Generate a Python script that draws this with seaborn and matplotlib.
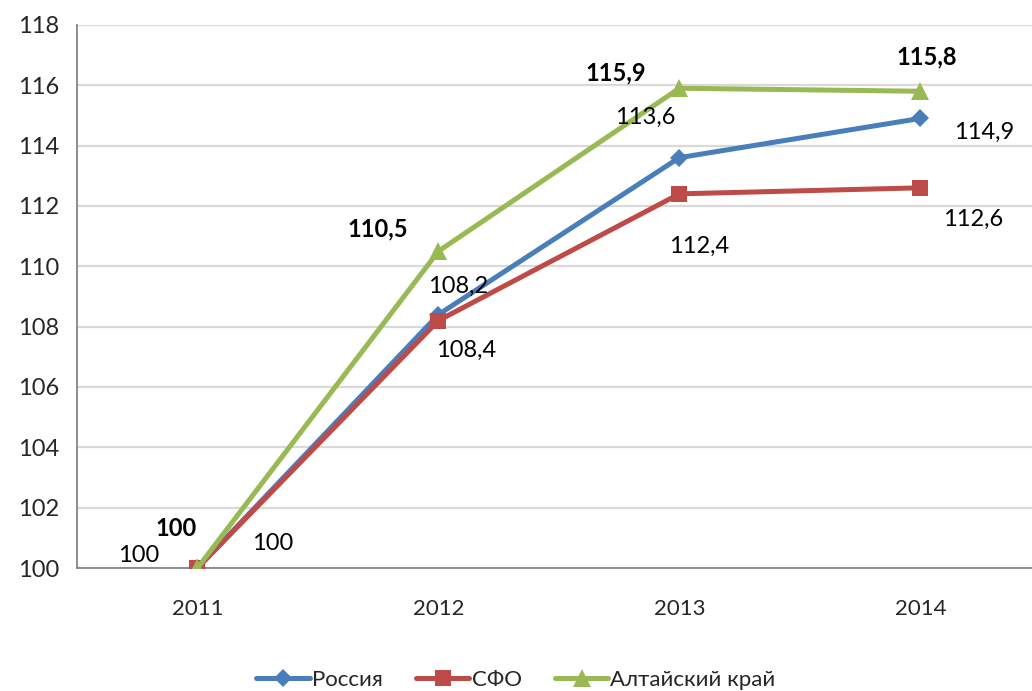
import pandas as pd
import matplotlib.pyplot as plt
import seaborn as sns
from matplotlib.ticker import FixedLocator

years = [2011, 2012, 2013, 2014]
series_names = ['Россия', 'СФО', 'Алтайский край']
russia = [100, 108.4, 113.6, 114.9]
sfo = [100, 108.2, 112.4, 112.6]
altai = [100, 110.5, 115.9, 115.8]
russia_labels = ['100', '108,2', '113,6', '114,9']
sfo_labels = ['100', '108,4', '112,4', '112,6']
altai_labels = ['100', '110,5', '115,9', '115,8']

df = pd.DataFrame({
    'year': years * 3,
    'value': russia + sfo + altai,
    'series': [s for s in series_names for _ in years],
})

colors = {'Россия': '#4A7EBB', 'СФО': '#BE4B48', 'Алтайский край': '#98B954'}
markers = {'Россия': 'D', 'СФО': 's', 'Алтайский край': '^'}
msizes = {'Россия': 9, 'СФО': 11, 'Алтайский край': 13}

sns.set_style('white')
plt.rcParams['font.family'] = ['Lato', 'DejaVu Sans']

fig = plt.figure(figsize=(10.32, 6.91), dpi=100)
ax = fig.add_axes([0.0746, 0.178, 0.934, 0.786])

ax.set_ylim(100, 118)
ax.set_xlim(2010.5, 2014.5)
ax.set_yticks(range(100, 119, 2))
ax.grid(axis='y', color='#D9D9D9', linewidth=1.6)
ax.set_axisbelow(True)

sns.lineplot(data=df, x='year', y='value', hue='series', style='series',
             palette=colors, markers=markers, dashes=False, linewidth=3.6,
             markeredgewidth=0, ax=ax, legend=False, zorder=3)
for line, name in zip(ax.get_lines(), series_names):
    line.set_markersize(msizes[name])

# label offsets in pixels, per series
offsets = {
    'Россия': [(-59, 13), (20, 28), (-34, 40), (64, -14)],
    'СФО': [(75, 25), (28, -30), (20, -52), (53, -32)],
    'Алтайский край': [(-21, 40), (-61, 22), (-64, 15), (6, 34)],
}
vals = {'Россия': russia, 'СФО': sfo, 'Алтайский край': altai}
labs = {'Россия': russia_labels, 'СФО': sfo_labels, 'Алтайский край': altai_labels}
for name in series_names:
    bold = name == 'Алтайский край'
    for x, v, t, off in zip(years, vals[name], labs[name], offsets[name]):
        ax.annotate(t, (x, v), xytext=off, textcoords='offset pixels',
                    ha='center', va='center', fontsize=17,
                    fontweight='bold' if bold else 'normal', color='black')

ax.set_xticks(years)
ax.set_xticklabels([str(y) for y in years])
ax.xaxis.set_minor_locator(FixedLocator([2010.5, 2011.5, 2012.5, 2013.5]))
ax.tick_params(axis='x', which='major', length=0, pad=22, labelsize=16)
ax.tick_params(axis='x', which='minor', length=7, width=1.3, color='#868686', direction='out')
ax.tick_params(axis='y', length=7, width=1.3, color='#868686', direction='out', labelsize=17, pad=6)
ax.set_xlabel('')
ax.set_ylabel('')

for side in ['top', 'right']:
    ax.spines[side].set_visible(False)
for side in ['left', 'bottom']:
    ax.spines[side].set_color('#868686')
    ax.spines[side].set_linewidth(1.3)

handles = [plt.Line2D([], [], color=colors[n], marker=markers[n], markersize=msizes[n],
                      markeredgewidth=0, linewidth=3.6) for n in series_names]
fig.legend(handles, series_names, loc='center', bbox_to_anchor=(0.5, 1 - 680 / 691),
           ncol=3, frameon=False, fontsize=16, handlelength=2.4, handletextpad=0.1,
           columnspacing=1.5)

fig.savefig('out.png', dpi=100)
